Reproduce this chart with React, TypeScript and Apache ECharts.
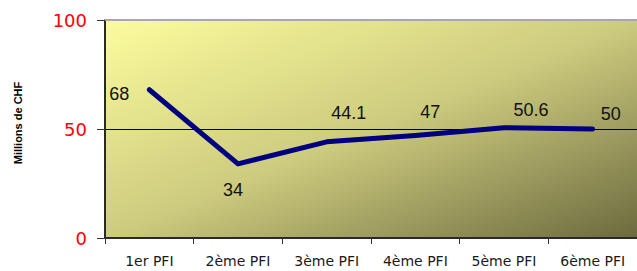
import React, { useEffect, useRef } from "react";
import * as echarts from "echarts";

const categories = ["1er PFI", "2ème PFI", "3ème PFI", "4ème PFI", "5ème PFI", "6ème PFI"];
const values = [68, 34, 44.1, 47, 50.6, 50];
const yTicks = [0, 50, 100];
// label offsets (styling), relative to point centre
const labelOffsets: [number, number][] = [
  [-30, 4],
  [-5, 26],
  [22, -29],
  [15, -24],
  [27, -18],
  [18, -15],
];

export default function App() {
  const ref = useRef<HTMLDivElement>(null);
  useEffect(() => {
    document.body.style.margin = "0";
    const chart = echarts.init(ref.current!, null, { renderer: "svg" });
    chart.setOption({
      animation: false,
      grid: {
        left: 105,
        top: 20,
        width: 534,
        height: 218,
        show: true,
        borderWidth: 0,
        backgroundColor: new echarts.graphic.LinearGradient(0, 0, 1, 1, [
          { offset: 0, color: "#fcfc9e" },
          { offset: 0.5, color: "#cdcb7e" },
          { offset: 1, color: "#6c6a3e" },
        ]),
      },
      xAxis: [
        {
          type: "category",
          data: categories,
          boundaryGap: true,
          axisLine: { lineStyle: { color: "#2a2a2a", width: 2 } },
          axisTick: { show: true, length: 6, lineStyle: { color: "#333", width: 1 } },
          axisLabel: {
            color: "#1a1a1a",
            fontFamily: "DejaVu Sans",
            fontSize: 14,
            margin: 16,
          },
        },
        {
          type: "category",
          data: categories,
          position: "top",
          axisLine: { lineStyle: { color: "#a8a8a8", width: 2 } },
          axisTick: { show: false },
          axisLabel: { show: false },
        },
      ],
      yAxis: {
        type: "value",
        min: yTicks[0],
        max: yTicks[yTicks.length - 1],
        interval: 50,
        name: "Millions de CHF",
        nameLocation: "middle",
        nameGap: 87,
        nameTextStyle: {
          color: "#000",
          fontFamily: "Liberation Sans",
          fontSize: 11,
          fontWeight: "bold",
          align: "center",
          verticalAlign: "middle",
          padding: [0, 0, 0, 12],
        },
        axisLine: { show: true, lineStyle: { color: "#2a2a2a", width: 2 } },
        axisTick: { show: true, length: 8, lineStyle: { color: "#333", width: 1 } },
        axisLabel: {
          color: "#ff0000",
          fontFamily: "DejaVu Sans",
          fontSize: 18,
          margin: 18,
        },
        splitLine: {
          show: true,
          lineStyle: { color: ["rgba(0,0,0,0)", "#000", "rgba(0,0,0,0)"], width: 1 },
        },
      },
      series: [
        {
          type: "line",
          data: values.map((v, i) => ({
            value: v,
            label: { offset: labelOffsets[i] },
          })),
          symbol: "circle",
          symbolSize: 2,
          itemStyle: { color: "#000080" },
          lineStyle: { color: "#000080", width: 5, cap: "round", join: "round" },
          label: {
            show: true,
            position: "inside",
            color: "#111",
            fontFamily: "Liberation Sans",
            fontSize: 18,
          },
        },
      ],
    });
    return () => chart.dispose();
  }, []);
  return <div ref={ref} style={{ width: 637, height: 271 }} />;
}
